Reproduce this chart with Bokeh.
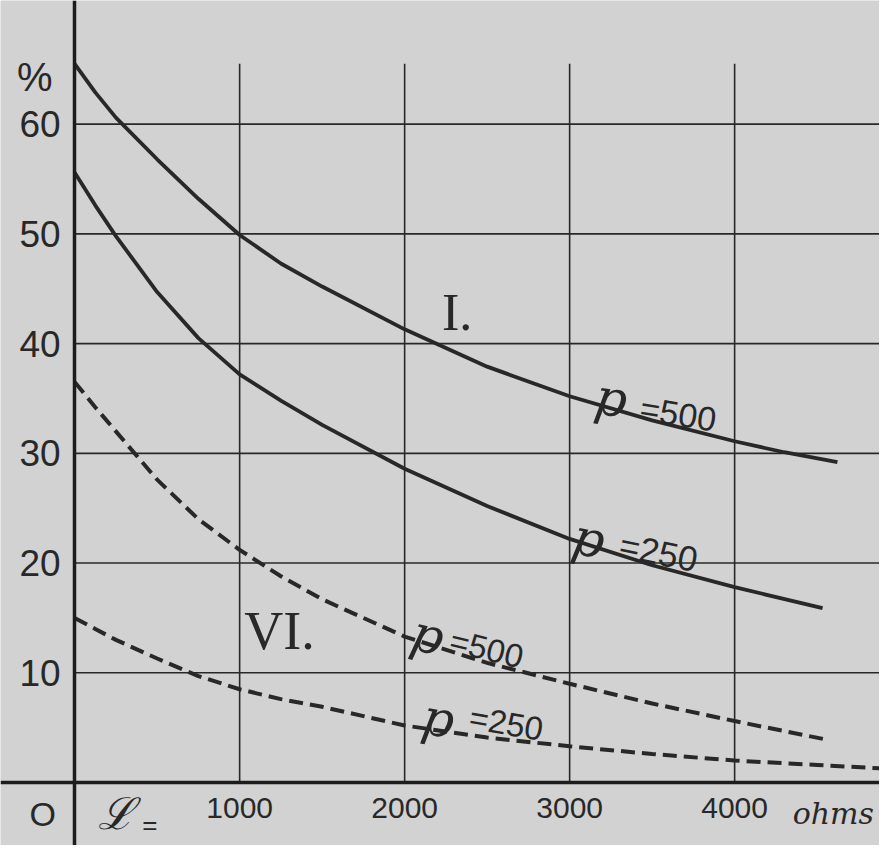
from bokeh.plotting import figure
from bokeh.models import Range1d, FixedTicker
from bokeh.core.properties import value
from bokeh.embed import file_html
from bokeh.resources import INLINE

# ---- data (resistance in ohms, percent) ----
resistance_I_500 = [0, 125, 250, 500, 750, 1000, 1250, 1500, 2000, 2500, 3000, 3500, 4000, 4300, 4623]
percent_I_500 = [65.5, 62.9, 60.6, 56.8, 53.2, 49.9, 47.3, 45.2, 41.3, 37.9, 35.2, 33.0, 31.1, 30.1, 29.2]

resistance_I_250 = [0, 125, 250, 500, 750, 1000, 1250, 1500, 2000, 2500, 3000, 3500, 4000, 4533]
percent_I_250 = [55.6, 52.6, 49.8, 44.7, 40.5, 37.2, 34.8, 32.6, 28.6, 25.2, 22.2, 19.8, 17.8, 15.9]

resistance_VI_500 = [0, 125, 250, 500, 750, 1000, 1250, 1500, 2000, 2500, 3000, 3500, 4000, 4560]
percent_VI_500 = [36.5, 34.2, 32.0, 27.6, 24.0, 21.2, 18.8, 16.7, 13.3, 10.9, 9.0, 7.2, 5.6, 3.9]

resistance_VI_250 = [0, 125, 250, 500, 750, 1000, 1250, 1500, 2000, 2500, 3000, 3500, 4000, 4500, 4878]
percent_VI_250 = [15.0, 14.0, 13.0, 11.3, 9.7, 8.5, 7.6, 6.9, 5.2, 4.1, 3.3, 2.6, 2.0, 1.6, 1.3]

x_ticks = [1000, 2000, 3000, 4000]
y_ticks = [10, 20, 30, 40, 50, 60]

INK = "#282828"
PAPER = "#d2d2d2"

p = figure(width=879, height=845,
           x_range=Range1d(-449.4, 4878), y_range=Range1d(-5.74, 71.27),
           output_backend="svg", toolbar_location=None,
           min_border=0, min_border_left=0, min_border_right=0,
           min_border_top=0, min_border_bottom=0,
           background_fill_color=PAPER, border_fill_color=PAPER,
           outline_line_color=None)

p.xgrid.visible = False
p.ygrid.visible = False

# grid lines drawn from the tick values
grid_top = 65.5
grid_right = 5000
p.segment(x0=x_ticks, y0=[0] * len(x_ticks), x1=x_ticks, y1=[grid_top] * len(x_ticks),
          line_color=INK, line_width=1.6)
p.segment(x0=[0] * len(y_ticks), y0=y_ticks, x1=[grid_right] * len(y_ticks), y1=y_ticks,
          line_color=INK, line_width=1.6)

# axes through the origin
for ax in (p.xaxis, p.yaxis):
    ax.fixed_location = 0
    ax.axis_line_color = "#1c1c1c"
    ax.axis_line_width = 3.5
    ax.major_tick_line_color = None
    ax.minor_tick_line_color = None
    ax.major_tick_in = 0
    ax.major_tick_out = 0
    ax.minor_tick_in = 0
    ax.minor_tick_out = 0
    ax.major_label_text_color = INK

p.xaxis.ticker = FixedTicker(ticks=x_ticks)
p.xaxis.major_label_text_font = "Liberation Sans"
p.xaxis.major_label_text_font_size = "30px"
p.xaxis.major_label_standoff = 15

p.yaxis.ticker = FixedTicker(ticks=y_ticks)
p.yaxis.major_label_text_font = "Liberation Sans"
p.yaxis.major_label_text_font_size = "37px"
p.yaxis.major_label_standoff = 14

# curves
p.line(resistance_I_500, percent_I_500, line_color=INK, line_width=3.8, line_join="round")
p.line(resistance_I_250, percent_I_250, line_color=INK, line_width=3.8, line_join="round")
p.line(resistance_VI_500, percent_VI_500, line_color=INK, line_width=4, line_dash="14 7")
p.line(resistance_VI_250, percent_VI_250, line_color=INK, line_width=4, line_dash="14 7")

def label(x, y, t, font, size, style="normal", angle=0.0, align="center"):
    p.text(x=[x], y=[y], text=[t], angle=angle, text_font=value(font),
           text_font_size=value(size), text_font_style=style, text_color=INK,
           text_align=align, text_baseline="middle")

label(2318, 42.8, "I.", "Liberation Serif", "52px")
label(1241, 13.8, "VI.", "Liberation Serif", "54px")

label(3253, 35.0, "p", "DejaVu Serif", "50px", "italic", -0.16)
label(3658, 33.6, "=500", "Liberation Sans", "34px", angle=-0.16)
label(3116, 22.2, "p", "DejaVu Serif", "50px", "italic", -0.2)
label(3539, 21.0, "=250", "Liberation Sans", "35px", angle=-0.2)
label(2140, 13.4, "p", "DejaVu Serif", "50px", "italic", -0.24)
label(2497, 12.2, "=500", "Liberation Sans", "33px", angle=-0.24)
label(2205, 5.8, "p", "DejaVu Serif", "50px", "italic", -0.17)
label(2616, 5.4, "=250", "Liberation Sans", "33px", angle=-0.17)

label(-241, 64.3, "%", "Liberation Sans", "40px")
label(-193, -2.9, "O", "Liberation Sans", "34px")
label(253, -2.8, "ℒ", "DejaVu Serif", "44px", "italic")
label(455, -3.9, "=", "Liberation Sans", "26px")
label(4598, -2.8, "ohms", "DejaVu Serif", "30px", "italic")

open("out.html", "w").write(file_html(p, INLINE))
